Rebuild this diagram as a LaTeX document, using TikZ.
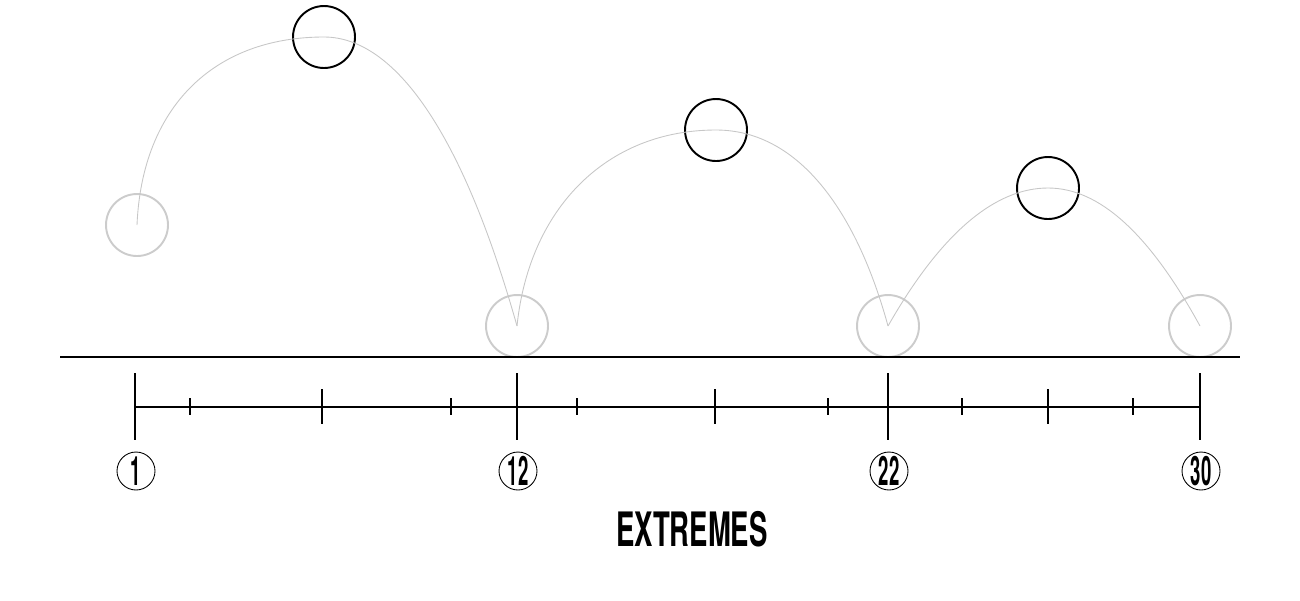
\documentclass[tikz,border=0pt]{standalone}
\usepackage{fontspec}
\newfontfamily\condfont[FakeStretch=0.58]{TeX Gyre Heros}
\newfontfamily\digitfont[FakeStretch=0.46]{TeX Gyre Heros}
\begin{document}
\begin{tikzpicture}[x=0.02cm, y=-0.02cm,
  ghost/.style={circle, draw=black!20, line width=1.1pt, minimum size=1.24cm, inner sep=0pt},
  ball/.style={circle, draw=black, line width=1.1pt, minimum size=1.24cm, inner sep=0pt},
  hop/.style={draw=black!22, line width=0.5pt},
  axis/.style={draw=black, line width=1.1pt},
  num/.style={circle, draw, line width=0.5pt, minimum size=0.76cm, inner sep=0pt, font=\digitfont\bfseries\fontsize{23}{23}\selectfont}]
\useasboundingbox (0,0) rectangle (1300,600);
\node[ghost] (g1) at (137,225){};
\node[ghost] (g2) at (517,326){};
\node[ghost] (g3) at (888,326){};
\node[ghost] (g4) at (1200,326){};
\node[ball] (k1) at (324,37){};
\node[ball] (k2) at (716,130){};
\node[ball] (k3) at (1048,188){};
\draw[hop] (g1.center) .. controls +(5,-118) and +(-110,0) .. (k1.center)
  .. controls +(70,0) and +(-55,-195) .. (g2.center);
\draw[hop] (g2.center) .. controls +(12,-117) and +(-110,0) .. (k2.center)
  .. controls +(85,0) and +(-30,-110) .. (g3.center);
\draw[hop] (g3.center) .. controls +(53,-93) and +(-53,0) .. (k3.center)
  .. controls +(51,0) and +(-51,-93) .. (g4.center);
% ground
\coordinate (gl) at (60,357);
\coordinate (gr) at (1240,357);
\draw[axis] (gl) -- (gr);
% timeline
\coordinate (tl) at (135,407);
\coordinate (tr) at (1200,407);
\draw[axis] (tl) -- (tr);
\foreach \x/\n in {135/1, 517/12, 888/22, 1200/30}{
  \draw[axis] (\x,373) -- (\x,440);
  \node[num] (n\n) at (\x+1,471) {\n};
}
\foreach \x in {322, 715, 1048}
  \draw[axis] (\x,389) -- (\x,424);
\foreach \x in {190, 451, 577, 828, 962, 1133}
  \draw[axis] (\x,398) -- (\x,415);
\node[font=\condfont\bfseries\fontsize{27}{27}\selectfont] (title) at (692,529) {EXTREMES};
\end{tikzpicture}
\end{document}
